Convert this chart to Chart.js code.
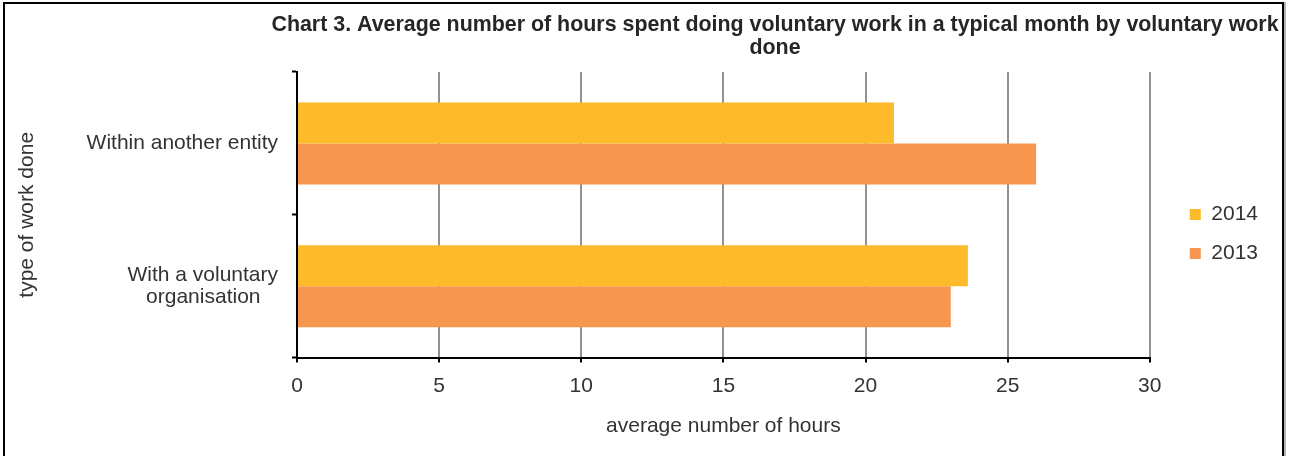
<!DOCTYPE html>
<html>
<head>
<meta charset="utf-8">
<script src="https://cdn.jsdelivr.net/npm/chart.js@4.4.1/dist/chart.umd.min.js"></script>
<style>
    html, body { margin: 0; padding: 0; background: #fff; overflow: hidden; }
    #wrap { position: absolute; left: 0; top: 0; width: 1290px; height: 456px; }
    #frame { position: absolute; left: 3px; top: 2px; width: 1277px; height: 480px; border: 2px solid #000; box-shadow: 2px 0 0 #b4b4b4; pointer-events: none; }
</style>
</head>
<body>
<div id="wrap"><canvas id="chart"></canvas></div>
<div id="frame"></div>
<script>
const categories = [['Within another entity'], ['With a voluntary', 'organisation   ']];
const seriesNames = ['2014', '2013'];
const values2014 = [21, 23.6];
const values2013 = [26, 23];
const xTicks = [0, 5, 10, 15, 20, 25, 30];
const titleLines = ['Chart 3. Average number of hours spent doing voluntary work in a typical month by voluntary work', 'done'];
const xAxisTitle = 'average number of hours';
const yAxisTitle = 'type of work done';

const colors = {
    yellow: '#FDBB2B',
    orange: '#F7964F',
    grid: '#929292',
    text: '#333333'
};

const fontFamily = "'Liberation Sans', Arial, sans-serif";
Chart.defaults.font.family = fontFamily;
Chart.defaults.color = colors.text;

// title is centred over the plot + legend, not the whole canvas, so draw it by hand
const titlePlugin = {
    id: 'excelTitle',
    afterDraw(chart) {
        const ctx = chart.ctx;
        ctx.save();
        ctx.font = 'bold 21.4px ' + fontFamily;
        ctx.fillStyle = '#262626';
        ctx.textAlign = 'center';
        ctx.textBaseline = 'middle';
        titleLines.forEach((line, i) => ctx.fillText(line, 775, 25 + i * 23));
        ctx.restore();
    }
};

const ctx = document.getElementById('chart').getContext('2d');
new Chart(ctx, {
    type: 'bar',
    data: {
        labels: categories,
        datasets: [
            { label: seriesNames[0], data: values2014, backgroundColor: colors.yellow, borderWidth: 0 },
            { label: seriesNames[1], data: values2013, backgroundColor: colors.orange, borderWidth: 0 }
        ]
    },
    options: {
        indexAxis: 'y',
        responsive: true,
        maintainAspectRatio: false,
        animation: false,
        datasets: { bar: { categoryPercentage: 0.574, barPercentage: 1 } },
        layout: { padding: { top: 26, right: 22, bottom: 14, left: 0 } },
        plugins: {
            title: { display: false },
            tooltip: { enabled: false },
            legend: {
                position: 'right',
                labels: { boxWidth: 11, boxHeight: 11, padding: 18, color: colors.text, font: { size: 21 } }
            }
        },
        scales: {
            x: {
                type: 'linear',
                min: 0,
                max: 30,
                afterBuildTicks: scale => { scale.ticks = xTicks.map(v => ({ value: v })); },
                ticks: { color: colors.text, font: { size: 21 }, padding: 11 },
                grid: {
                    color: c => (c.tick && c.tick.value === 0 ? 'rgba(0,0,0,0)' : colors.grid),
                    lineWidth: 2,
                    tickLength: 5,
                    tickColor: '#000',
                    tickWidth: 2
                },
                border: { color: '#000', width: 2 },
                title: { display: true, text: xAxisTitle, color: colors.text, font: { size: 21 }, padding: { top: 4, bottom: 3 } }
            },
            // empty spacer above the plot, so the legend centres like the original
            gapTop: {
                axis: 'x',
                position: 'top',
                display: true,
                grid: { display: false },
                border: { display: false },
                ticks: { display: false },
                afterFit: scale => { scale.height = 46; }
            },
            y: {
                ticks: { color: colors.text, font: { size: 21, lineHeight: 1.05 }, padding: 14, crossAlign: 'near' },
                grid: { drawOnChartArea: false, offset: true, tickLength: 5, tickColor: '#000', tickWidth: 2 },
                border: { color: '#000', width: 2 },
                title: { display: true, text: yAxisTitle, color: colors.text, font: { size: 21 }, padding: { top: 15, bottom: 10 } },
                afterFit: scale => { scale.width = 297; }
            },
            gap: {
                position: 'right',
                display: true,
                grid: { display: false },
                border: { display: false },
                ticks: { display: false },
                afterFit: scale => { scale.width = 22; }
            }
        }
    },
    plugins: [titlePlugin]
});
</script>
</body>
</html>
